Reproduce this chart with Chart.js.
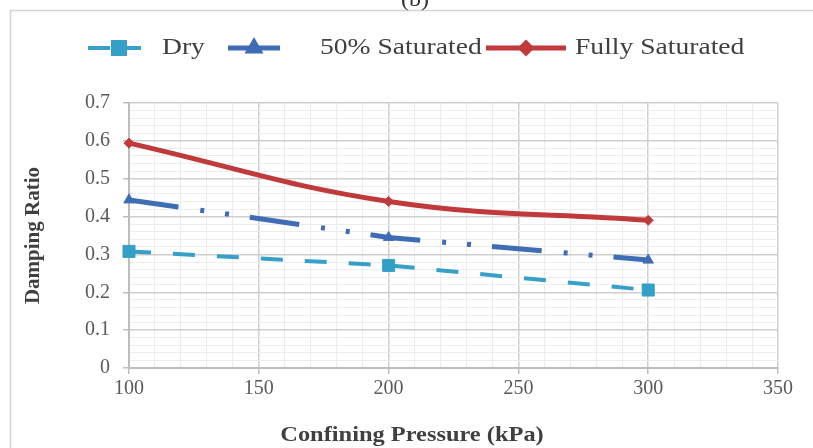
<!DOCTYPE html>
<html>
<head>
<meta charset="utf-8">
<script src="https://cdn.jsdelivr.net/npm/chart.js@4.4.1/dist/chart.umd.min.js"></script>
<style>
  body { margin: 0; background: #fff; }
  #wrap { width: 813px; height: 448px; position: relative; }
</style>
</head>
<body>
<div id="wrap"><canvas id="chart" width="813" height="448"></canvas></div>
<script>
// data
const pressures = [100, 200, 300];
const dryRatio = [0.308, 0.271, 0.206];
const halfSatRatio = [0.444, 0.345, 0.285];
const fullSatRatio = [0.594, 0.440, 0.390];
const seriesNames = ['Dry', '50% Saturated', 'Fully Saturated'];
const xTitle = 'Confining Pressure (kPa)';
const yTitle = 'Damping Ratio';

const serif = '"Liberation Serif", "DejaVu Serif", serif';

function toPoints(ys) {
    return pressures.map((x, i) => ({ x: x, y: ys[i] }));
}

// the source figure is a bit stretched sideways, so text is widened a little
function wideText(ctx, text, x, y, stretch, align) {
    ctx.save();
    ctx.translate(x, y);
    ctx.scale(stretch, 1);
    ctx.textAlign = align;
    ctx.fillText(text, 0, 0);
    ctx.restore();
}

// outer frame, caption, x title and legend
const decorPlugin = {
    id: 'decor',
    beforeDraw(chart) {
        const ctx = chart.ctx;
        ctx.save();
        ctx.fillStyle = '#fff';
        ctx.fillRect(0, 0, chart.width, chart.height);
        ctx.strokeStyle = '#d4d4d4';
        ctx.lineWidth = 1.5;
        ctx.strokeRect(10.5, 10.5, 830, 460);
        ctx.fillStyle = '#333';
        ctx.font = '20px ' + serif;
        ctx.textBaseline = 'alphabetic';
        wideText(ctx, '(b)', 415, 6, 1.2, 'center');
        ctx.restore();
    },
    afterDraw(chart) {
        const ctx = chart.ctx;
        ctx.save();
        ctx.fillStyle = '#404040';
        ctx.font = 'bold 20px ' + serif;
        ctx.textBaseline = 'middle';
        wideText(ctx, xTitle, 412, 436, 1.22, 'center');

        // legend
        const slots = [
            { x0: 88, x1: 150, tx: 162, dash: [22, 9] },
            { x0: 228, x1: 280, tx: 320, dash: [] },
            { x0: 486, x1: 566, tx: 575, dash: [] }
        ];
        const ly = 48;
        chart.data.datasets.forEach((ds, i) => {
            const s = slots[i];
            ctx.strokeStyle = ds.borderColor;
            ctx.lineWidth = ds.borderWidth;
            ctx.setLineDash(s.dash);
            ctx.beginPath();
            ctx.moveTo(s.x0, ly);
            ctx.lineTo(s.x1, ly);
            ctx.stroke();
            ctx.setLineDash([]);
            Chart.helpers.drawPoint(ctx, {
                pointStyle: ds.pointStyle,
                radius: ds.pointRadius,
                borderWidth: 1,
                rotation: 0
            }, (s.x0 + s.x1) / 2, ly);
            ctx.fillStyle = ds.pointBackgroundColor;
            ctx.fill();
            ctx.fillStyle = '#404040';
            ctx.font = '23px ' + serif;
            wideText(ctx, ds.label, s.tx, ly, 1.2, 'left');
        });
        ctx.restore();
    }
};

new Chart(document.getElementById('chart'), {
    type: 'line',
    data: {
        datasets: [
            {
                label: seriesNames[0],
                data: toPoints(dryRatio),
                borderColor: '#37a0c9',
                backgroundColor: '#37a0c9',
                pointBackgroundColor: '#34a0c8',
                pointBorderColor: '#34a0c8',
                borderWidth: 4,
                borderDash: [22, 22],
                pointStyle: 'rect',
                pointRadius: 8.5,
                pointBorderWidth: 1,
                tension: 0,
                clip: false
            },
            {
                label: seriesNames[1],
                data: toPoints(halfSatRatio),
                borderColor: '#3f6db5',
                backgroundColor: '#3f6db5',
                pointBackgroundColor: '#3f6db5',
                pointBorderColor: '#3f6db5',
                borderWidth: 5,
                borderDash: [50, 22, 4, 21, 4, 21],
                pointStyle: 'triangle',
                pointRadius: 6,
                pointBorderWidth: 1,
                tension: 0,
                clip: false
            },
            {
                label: seriesNames[2],
                data: toPoints(fullSatRatio),
                borderColor: '#c0393b',
                backgroundColor: '#c0393b',
                pointBackgroundColor: '#c0393b',
                pointBorderColor: '#c0393b',
                borderWidth: 5,
                pointStyle: 'rectRot',
                pointRadius: 5,
                pointBorderWidth: 1,
                tension: 0.4,
                clip: false
            }
        ]
    },
    options: {
        responsive: false,
        animation: false,
        layout: { padding: { left: 0, top: 103, right: 35, bottom: 0 } },
        plugins: {
            legend: { display: false },
            tooltip: { enabled: false }
        },
        scales: {
            x: {
                type: 'linear',
                min: 100,
                max: 350,
                afterFit: s => { s.height = 80; },
                ticks: {
                    stepSize: 10,
                    autoSkip: false,
                    maxRotation: 0,
                    padding: 3,
                    color: '#595959',
                    font: { family: serif, size: 20 },
                    callback: v => (v % 50 === 0 ? String(v) : '')
                },
                grid: {
                    tickLength: 6,
                    color: c => (c.tick && c.tick.value % 50 === 0 ? '#cfcfcf' : '#ededed'),
                    tickColor: c => (c.tick && c.tick.value % 50 === 0 ? '#bdbdbd' : 'rgba(0,0,0,0)'),
                    lineWidth: c => (c.tick && c.tick.value % 50 === 0 ? 1.5 : 1)
                },
                border: { color: '#bdbdbd', width: 2 }
            },
            y: {
                min: 0,
                max: 0.7,
                afterFit: s => { s.width = 129; },
                ticks: {
                    stepSize: 0.02,
                    autoSkip: false,
                    padding: 13,
                    color: '#595959',
                    font: { family: serif, size: 20 },
                    callback: v => {
                        const k = Math.round(v * 100);
                        if (k % 10 !== 0) return '';
                        return k === 0 ? '0' : (k / 100).toFixed(1);
                    }
                },
                grid: {
                    tickLength: 6,
                    color: c => (c.tick && Math.round(c.tick.value * 100) % 10 === 0 ? '#cfcfcf' : '#ededed'),
                    tickColor: c => (c.tick && Math.round(c.tick.value * 100) % 10 === 0 ? '#bdbdbd' : 'rgba(0,0,0,0)'),
                    lineWidth: c => (c.tick && Math.round(c.tick.value * 100) % 10 === 0 ? 1.5 : 1)
                },
                border: { color: '#bdbdbd', width: 2 },
                title: {
                    display: true,
                    text: yTitle,
                    color: '#404040',
                    font: { family: serif, size: 21, weight: 'bold' },
                    padding: { top: 21, bottom: 0 }
                }
            }
        }
    },
    plugins: [decorPlugin]
});
</script>
</body>
</html>
